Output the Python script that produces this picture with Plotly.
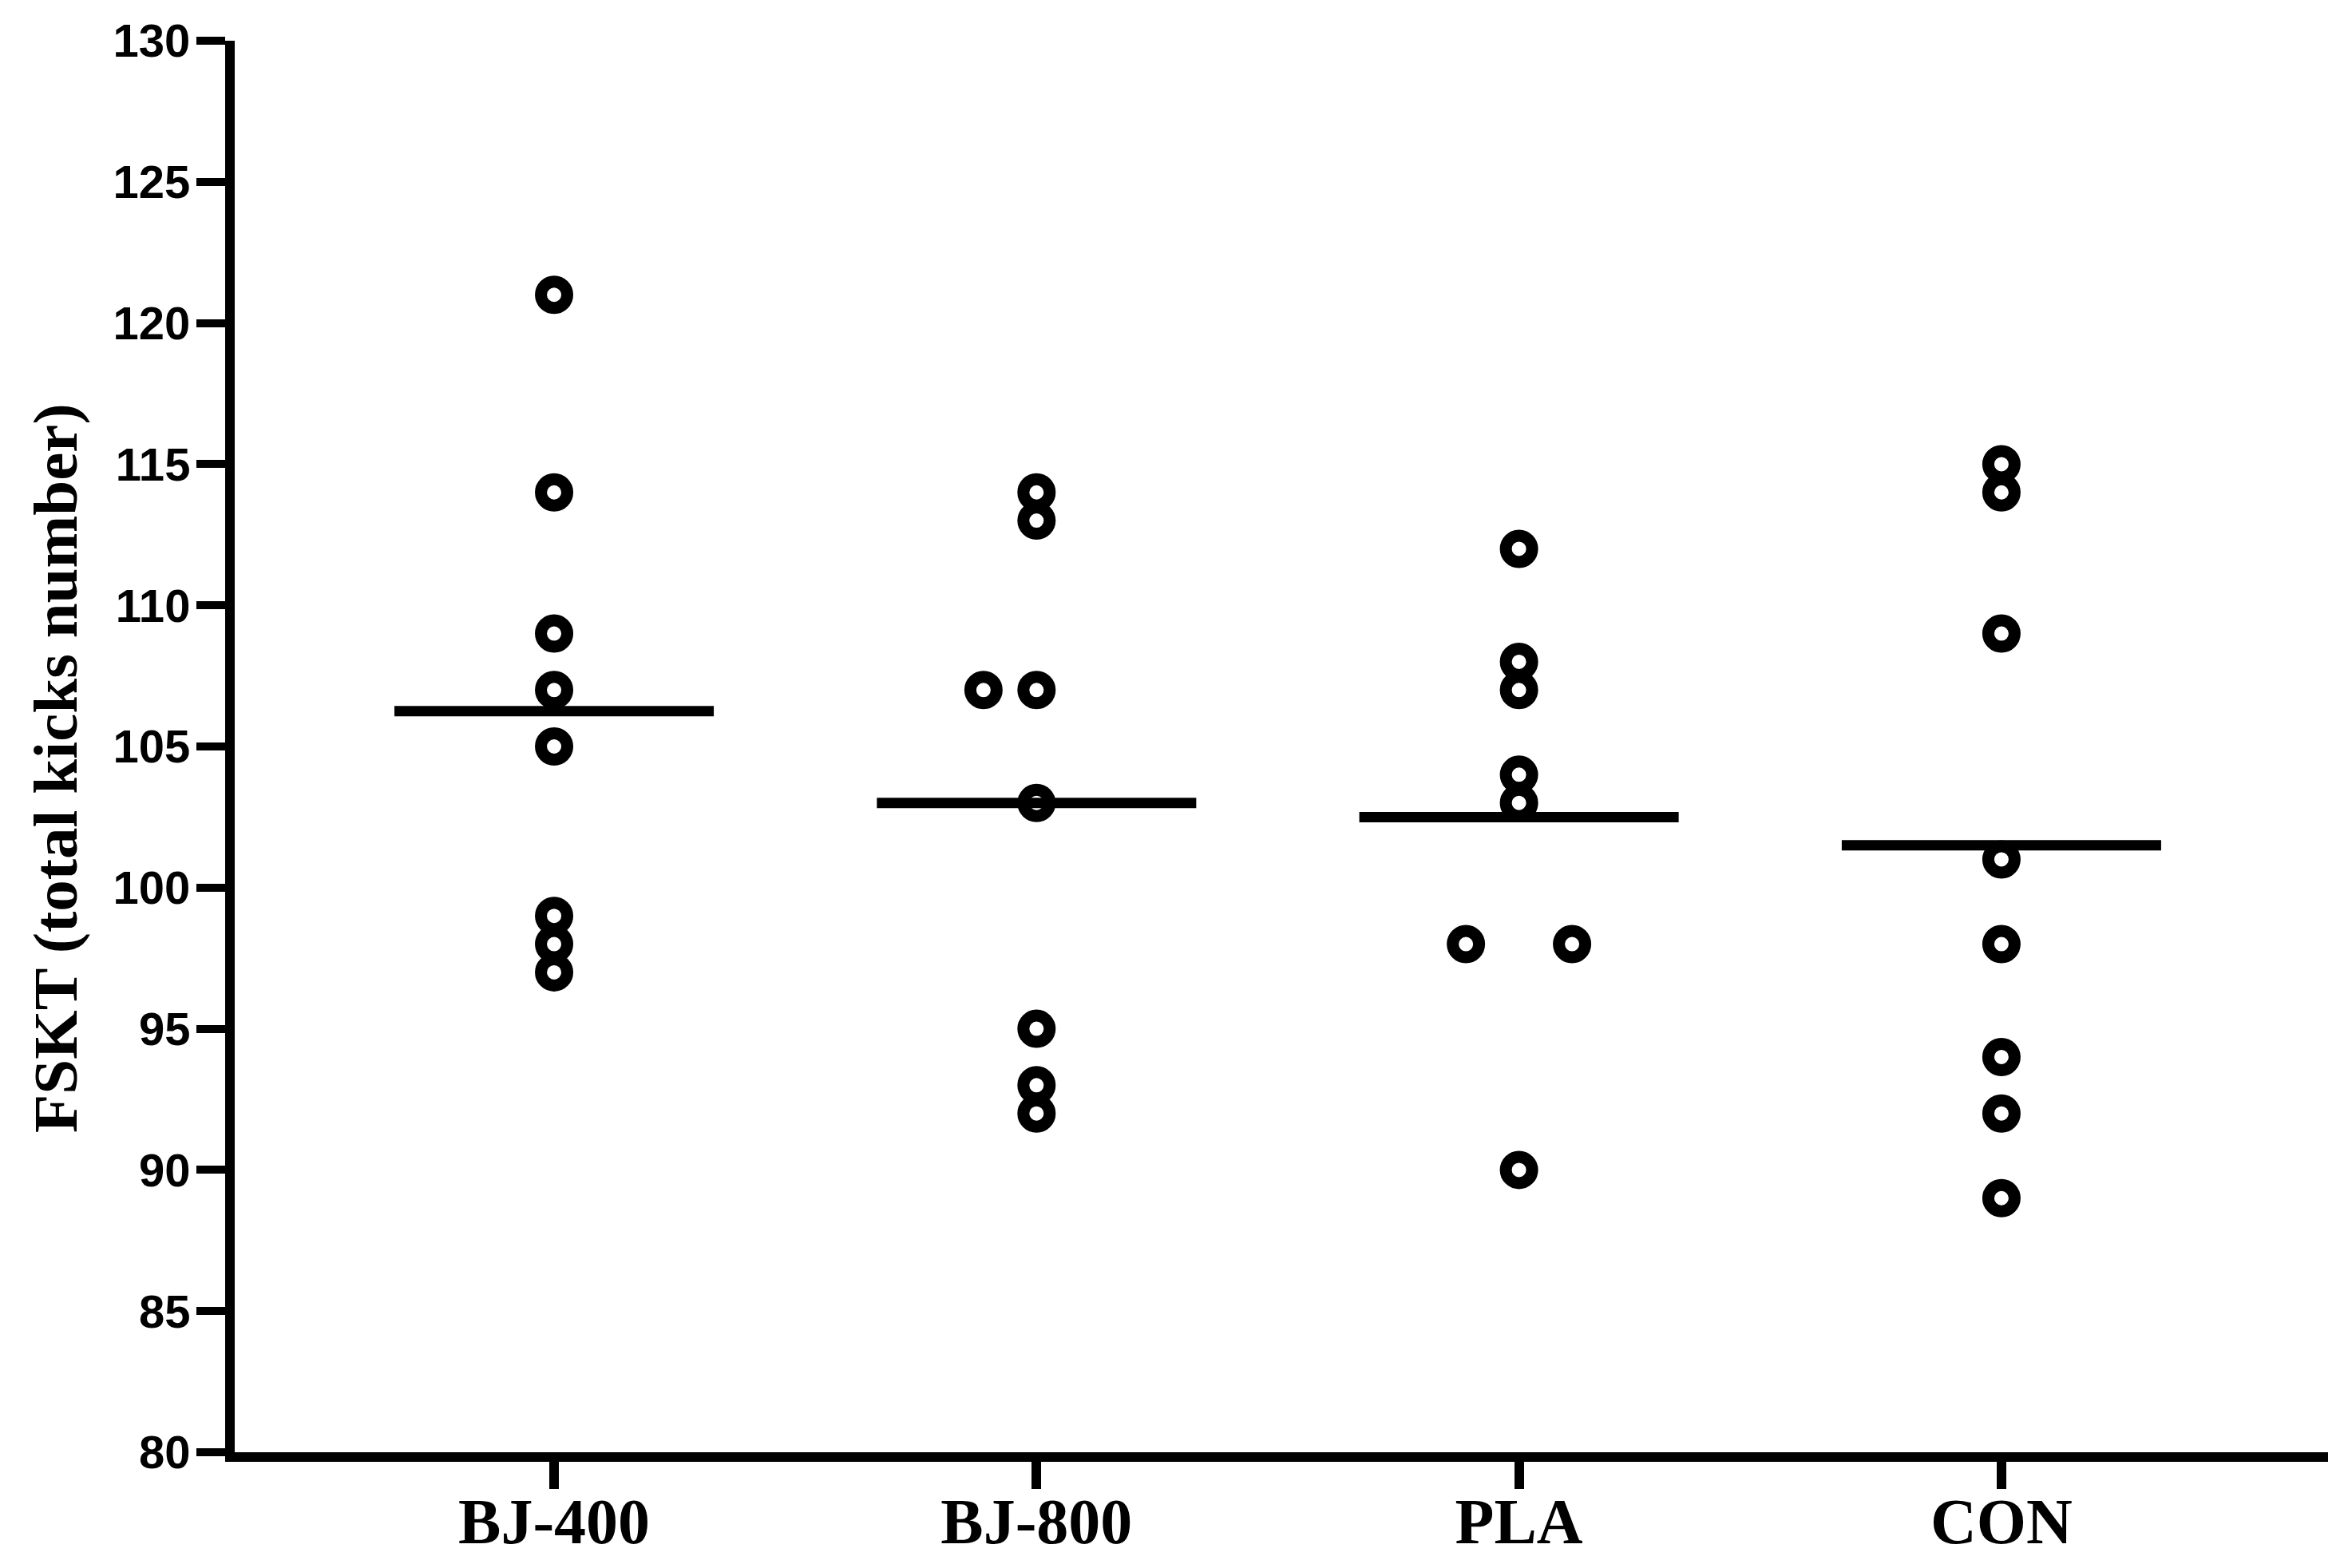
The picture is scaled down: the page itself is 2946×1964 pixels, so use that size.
import numpy as np
import plotly.graph_objects as go

categories = ["BJ-400", "BJ-800", "PLA", "CON"]

bj400 = [121, 114, 109, 107, 105, 99, 98, 97]
bj800 = [114, 113, 107, 107, 103, 95, 93, 92]
pla = [112, 108, 107, 104, 103, 98, 98, 90]
con = [115, 114, 109, 101, 98, 94, 92, 89]

# horizontal scatter offsets of individual points (in category widths)
bj400_off = [0, 0, 0, 0, 0, 0, 0, 0]
bj800_off = [0, 0, -0.11, 0, 0, 0, 0, 0]
pla_off = [0, 0, 0, 0, 0, -0.11, 0.11, 0]
con_off = [0, 0, 0, 0, 0, 0, 0, 0]

y_ticks = [80, 85, 90, 95, 100, 105, 110, 115, 120, 125, 130]

groups = [bj400, bj800, pla, con]
offsets = [bj400_off, bj800_off, pla_off, con_off]

fig = go.Figure()

for i, (vals, offs) in enumerate(zip(groups, offsets)):
    fig.add_trace(go.Scatter(
        x=[i + o for o in offs],
        y=vals,
        mode="markers",
        marker=dict(symbol="circle", size=33, color="white",
                    line=dict(color="black", width=15)),
        showlegend=False,
        hoverinfo="y",
    ))

half = 0.331
for i, vals in enumerate(groups):
    m = float(np.mean(vals))
    fig.add_trace(go.Scatter(
        x=[i - half, i + half],
        y=[m, m],
        mode="lines",
        line=dict(color="black", width=13),
        showlegend=False,
        hoverinfo="skip",
    ))

fig.add_annotation(
    text="FSKT (total kicks number)",
    xref="paper", yref="paper", x=0, y=0.5,
    xanchor="center", yanchor="middle",
    xshift=-225, yshift=-27,
    textangle=-90, showarrow=False,
    font=dict(family="Liberation Serif", size=79, color="black", weight="bold"),
)

fig.update_layout(
    width=2946, height=1964,
    margin=dict(l=286, r=38, t=43, b=153, autoexpand=False),
    paper_bgcolor="white", plot_bgcolor="white",
    xaxis=dict(
        range=[-0.662, 3.677],
        tickmode="array", tickvals=list(range(len(categories))), ticktext=categories,
        showline=True, linecolor="black", linewidth=12,
        ticks="outside", ticklen=34, tickwidth=12, tickcolor="black",
        showgrid=False, zeroline=False, automargin=False,
        ticklabelstandoff=-28,
        tickfont=dict(family="Liberation Serif", size=80, color="black", weight="bold"),
    ),
    yaxis=dict(
        range=[80, 130],
        tickmode="array", tickvals=y_ticks,
        showline=True, linecolor="black", linewidth=12,
        ticks="outside", ticklen=36, tickwidth=10, tickcolor="black",
        showgrid=False, zeroline=False, automargin=False,
        ticklabelstandoff=-4,
        tickfont=dict(family="Liberation Sans", size=58, color="black", weight="bold"),
    ),
)

fig.write_html("out.html")
